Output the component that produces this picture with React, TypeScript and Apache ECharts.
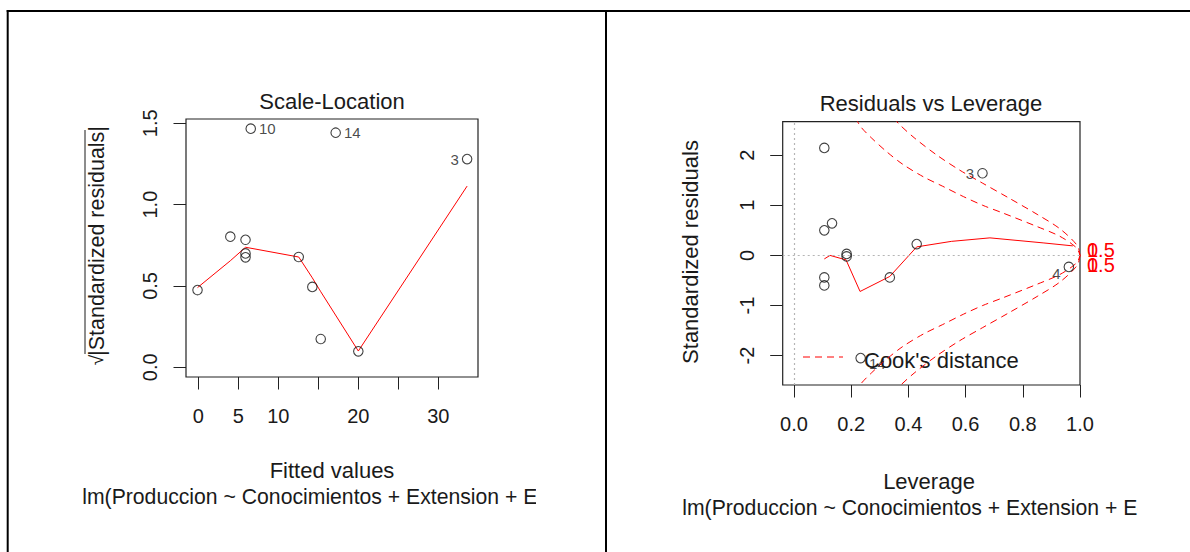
import React, { useEffect, useRef } from 'react';
import * as echarts from 'echarts';

// ---- Scale-Location panel ----
const fittedValues = [-0.1, 4.0, 5.9, 5.9, 5.9, 6.55, 12.55, 14.25, 15.3, 17.17, 20.0, 33.6];
const sqrtStdResid = [0.475, 0.803, 0.784, 0.7, 0.676, 1.467, 0.678, 0.494, 0.174, 1.442, 0.098, 1.28];
const scaleIdLabels = ['', '', '', '', '', '10', '', '', '', '14', '', '3'];
const scaleIdPos = ['', '', '', '', '', 'right', '', '', '', 'right', '', 'left'];
const scaleSmoothX = [-0.1, 4.0, 5.9, 12.55, 14.25, 15.3, 20.0, 33.6];
const scaleSmoothY = [0.49, 0.655, 0.738, 0.678, 0.55, 0.465, 0.1, 1.114];
const scaleXTicks = [0, 5, 10, 15, 20, 25, 30];
const scaleXLabels = [0, 5, 10, 20, 30];
const scaleYTicks = [0, 0.5, 1.0, 1.5];

// ---- Residuals vs Leverage panel ----
const leverage = [0.106, 0.106, 0.133, 0.184, 0.184, 0.106, 0.106, 0.233, 0.335, 0.429, 0.659, 0.961];
const stdResid = [2.145, 0.5, 0.64, 0.03, -0.02, -0.44, -0.6, -2.05, -0.44, 0.226, 1.64, -0.23];
const levIdLabels = ['', '', '', '', '', '', '', '14', '', '', '3', '4'];
const levIdPos = ['', '', '', '', '', '', '', 'right', '', '', 'left', 'left'];
const levSmoothX = [0.106, 0.126, 0.182, 0.231, 0.335, 0.429, 0.55, 0.685, 0.871, 0.975];
const levSmoothY = [-0.07, 0.0, -0.09, -0.72, -0.42, 0.17, 0.28, 0.35, 0.25, 0.19];
const cookHalfUpX = [0.215, 0.233, 0.27, 0.324, 0.38, 0.452, 0.52, 0.592, 0.66, 0.731, 0.848, 0.93, 0.988, 1.0];
const cookHalfUpY = [2.75, 2.57, 2.35, 2.07, 1.82, 1.57, 1.38, 1.175, 1.0, 0.845, 0.58, 0.38, 0.15, 0.0];
const cookHalfLoX = [0.215, 0.233, 0.27, 0.324, 0.38, 0.452, 0.52, 0.592, 0.66, 0.731, 0.848, 0.93, 0.988, 1.0];
const cookHalfLoY = [-2.75, -2.57, -2.35, -2.07, -1.82, -1.57, -1.38, -1.175, -1.0, -0.845, -0.58, -0.38, -0.15, 0.0];
const cookOneUpX = [0.35, 0.364, 0.42, 0.5, 0.58, 0.66, 0.75, 0.85, 0.93, 0.99, 1.0];
const cookOneUpY = [2.75, 2.64, 2.35, 2.0, 1.7, 1.44, 1.15, 0.82, 0.53, 0.2, 0.0];
const cookOneLoX = [0.35, 0.364, 0.42, 0.5, 0.58, 0.66, 0.75, 0.85, 0.93, 0.99, 1.0];
const cookOneLoY = [-2.75, -2.64, -2.35, -2.0, -1.7, -1.44, -1.15, -0.82, -0.53, -0.2, 0.0];
const levXTicks = [0, 0.2, 0.4, 0.6, 0.8, 1.0];
const levYTicks = [-2, -1, 0, 1, 2];

const FONT = '"Liberation Sans", Arial, sans-serif';
const INK = '#1a1a1a';
const RED = '#ff0000';

const zip = (a: number[], b: number[]) => a.map((v, i) => [v, b[i]]);

function pointData(xs: number[], ys: number[], ids: string[], pos: string[], offsets: any = {}) {
  return xs.map((x, i) => {
    const item: any = { value: [x, ys[i]] };
    if (ids[i]) {
      item.label = {
        show: true,
        formatter: ids[i],
        position: pos[i],
        distance: 3,
        offset: offsets[ids[i]] || [0, 0],
        fontSize: 15,
        fontFamily: FONT,
        color: INK,
      };
    }
    return item;
  });
}

const tickStyle = { show: true, length: 12.5, lineStyle: { color: '#222', width: 1 } };
const hiddenLine = { show: false, onZero: false };

function buildOption() {
  const textEl = (x: number, y: number, text: string, size: number, extra: any = {}, styleExtra: any = {}) => ({
    type: 'text',
    x,
    y,
    ...extra,
    style: {
      text,
      fontSize: size,
      fontFamily: FONT,
      fill: INK,
      align: 'center',
      verticalAlign: 'middle',
      ...styleExtra,
    },
  });
  return {
    animation: false,
    backgroundColor: '#ffffff',
    grid: [
      { left: 186, top: 119, width: 292, height: 258, show: true, borderColor: '#222', borderWidth: 1.2, backgroundColor: 'transparent' },
      { left: 782.7, top: 121.7, width: 297.3, height: 263.3, show: true, borderColor: '#222', borderWidth: 1.2, backgroundColor: 'transparent' },
    ],
    xAxis: [
      {
        type: 'value', gridIndex: 0, min: -1.54, max: 34.96, position: 'bottom',
        axisLine: hiddenLine,
        axisTick: { ...tickStyle, customValues: scaleXTicks },
        axisLabel: { customValues: scaleXLabels, margin: 29, fontSize: 20, fontFamily: FONT, color: INK, formatter: (v: number) => String(v) },
        splitLine: { show: false },
      },
      {
        type: 'value', gridIndex: 1, min: -0.0395, max: 1.0, position: 'bottom',
        axisLine: hiddenLine,
        axisTick: { ...tickStyle, customValues: levXTicks },
        axisLabel: { customValues: levXTicks, margin: 29, fontSize: 20, fontFamily: FONT, color: INK, formatter: (v: number) => v.toFixed(1) },
        splitLine: { show: false },
      },
    ],
    yAxis: [
      {
        type: 'value', gridIndex: 0, min: -0.0596, max: 1.5264, position: 'left',
        axisLine: hiddenLine,
        axisTick: { ...tickStyle, customValues: scaleYTicks },
        axisLabel: { customValues: scaleYTicks, rotate: 90, margin: 26, fontSize: 20, fontFamily: FONT, color: INK, formatter: (v: number) => v.toFixed(1) },
        splitLine: { show: false },
      },
      {
        type: 'value', gridIndex: 1, min: -2.587, max: 2.669, position: 'left',
        axisLine: hiddenLine,
        axisTick: { ...tickStyle, customValues: levYTicks },
        axisLabel: { customValues: levYTicks, rotate: 90, margin: 26, fontSize: 20, fontFamily: FONT, color: INK, formatter: (v: number) => String(v) },
        splitLine: { show: false },
      },
    ],
    series: [
      {
        type: 'line', xAxisIndex: 0, yAxisIndex: 0, data: zip(scaleSmoothX, scaleSmoothY),
        showSymbol: false, symbol: 'none', lineStyle: { color: RED, width: 1 }, z: 3, silent: true,
      },
      {
        type: 'scatter', xAxisIndex: 0, yAxisIndex: 0,
        data: pointData(fittedValues, sqrtStdResid, scaleIdLabels, scaleIdPos),
        symbol: 'circle', symbolSize: 9.5,
        itemStyle: { color: 'rgba(0,0,0,0)', borderColor: '#111', borderWidth: 1.1 },
        z: 4, silent: true,
      },
      {
        type: 'line', xAxisIndex: 1, yAxisIndex: 1, data: [],
        markLine: {
          silent: true, symbol: 'none', label: { show: false },
          lineStyle: { color: '#b5b5b5', type: [2, 3], width: 1.2 },
          data: [{ xAxis: 0 }, { yAxis: 0 }],
        },
        z: 1,
      },
      ...[
        zip(cookHalfUpX, cookHalfUpY),
        zip(cookHalfLoX, cookHalfLoY),
        zip(cookOneUpX, cookOneUpY),
        zip(cookOneLoX, cookOneLoY),
      ].map((d) => ({
        type: 'line', xAxisIndex: 1, yAxisIndex: 1, data: d, smooth: 0.3,
        showSymbol: false, symbol: 'none', clip: true,
        lineStyle: { color: RED, width: 1, type: [7, 5] }, z: 2, silent: true,
      })),
      {
        type: 'line', xAxisIndex: 1, yAxisIndex: 1, data: zip(levSmoothX, levSmoothY),
        showSymbol: false, symbol: 'none', lineStyle: { color: RED, width: 1 }, z: 3, silent: true,
      },
      {
        type: 'scatter', xAxisIndex: 1, yAxisIndex: 1,
        data: pointData(leverage, stdResid, levIdLabels, levIdPos, { '14': [0, 5], '4': [0, 7] }),
        symbol: 'circle', symbolSize: 9.5,
        itemStyle: { color: 'rgba(0,0,0,0)', borderColor: '#111', borderWidth: 1.1 },
        z: 4, silent: true,
      },
    ],
    graphic: [
      // page frame
      { type: 'line', shape: { x1: 6.7, y1: 11, x2: 1190, y2: 11 }, style: { stroke: '#000', lineWidth: 2 } },
      { type: 'line', shape: { x1: 7.7, y1: 10, x2: 7.7, y2: 552 }, style: { stroke: '#000', lineWidth: 2 } },
      { type: 'line', shape: { x1: 606, y1: 10, x2: 606, y2: 552 }, style: { stroke: '#000', lineWidth: 2 } },
      // left panel texts
      textEl(332, 101, 'Scale-Location', 22),
      textEl(97, 241, '|Standardized residuals|', 21.5, { rotation: Math.PI / 2 }),
      textEl(96, 360, '\u221A', 19, { rotation: Math.PI / 2 }),
      { type: 'line', shape: { x1: 85, y1: 130, x2: 85, y2: 354 }, style: { stroke: INK, lineWidth: 1 } },
      textEl(332, 470, 'Fitted values', 22),
      textEl(331, 496, 'lm(Produccion ~ Conocimientos + Extension + Edad)', 21.2),
      { type: 'rect', shape: { x: 536, y: 480, width: 68, height: 34 }, style: { fill: '#fff' }, z: 10 },
      // right panel texts
      textEl(931, 103, 'Residuals vs Leverage', 22),
      textEl(690, 252, 'Standardized residuals', 22, { rotation: Math.PI / 2 }),
      textEl(929, 481, 'Leverage', 22),
      textEl(931, 507, 'lm(Produccion ~ Conocimientos + Extension + Edad)', 21.2),
      { type: 'rect', shape: { x: 1138, y: 490, width: 52, height: 34 }, style: { fill: '#fff' }, z: 10 },
      // cook's distance legend
      { type: 'line', shape: { x1: 803, y1: 357, x2: 843, y2: 357 }, style: { stroke: RED, lineWidth: 1, lineDash: [7, 5] } },
      textEl(864, 360, "Cook's distance", 22, {}, { align: 'left' }),
      // contour level labels
      textEl(1087, 250, '0.5', 20, {}, { align: 'left', fill: RED }),
      textEl(1087, 250, '1', 20, {}, { align: 'left', fill: RED }),
      textEl(1087, 265, '0.5', 20, {}, { align: 'left', fill: RED }),
      textEl(1087, 265, '1', 20, {}, { align: 'left', fill: RED }),
    ],
  };
}

export default function App() {
  const ref = useRef<HTMLDivElement>(null);
  useEffect(() => {
    if (!ref.current) return;
    const chart = echarts.init(ref.current, null, { renderer: 'svg' });
    chart.setOption(buildOption() as any);
    return () => chart.dispose();
  }, []);
  return (
    <div
      ref={ref}
      style={{ position: 'fixed', left: 0, top: 0, width: 1190, height: 552, background: '#fff' }}
    />
  );
}
